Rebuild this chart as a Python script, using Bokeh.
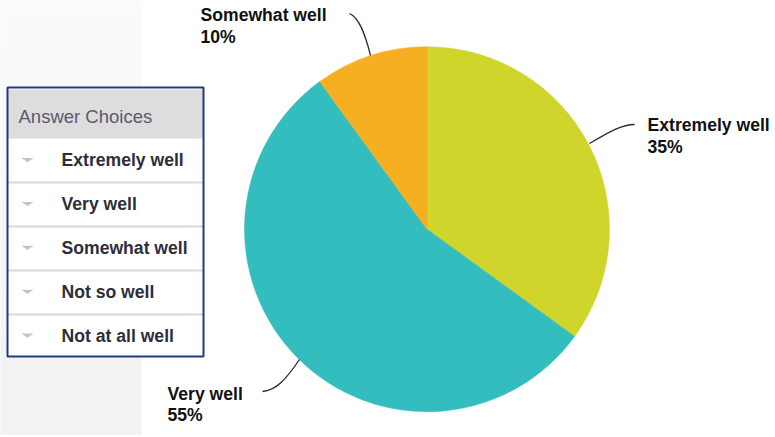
import numpy as np
from bokeh.plotting import figure
from bokeh.models import Range1d
from bokeh.core.properties import value
from bokeh.embed import file_html
from bokeh.resources import INLINE

# ---- data ----
categories = ["Extremely well", "Very well", "Somewhat well"]
percents = [35, 55, 10]
colors = ["#CFD52A", "#34BDBF", "#F6AF20"]
table_header = "Answer Choices"
table_choices = ["Extremely well", "Very well", "Somewhat well", "Not so well", "Not at all well"]

# ---- layout helpers (page pixel coords -> data coords) ----
W, H = 773, 435
TDY = -7.0  # text baseline correction
def X(px):
    a = np.asarray(px, dtype=float)
    return float(a) if a.ndim == 0 else a
def Y(py):
    a = H - np.asarray(py, dtype=float)
    return float(a) if a.ndim == 0 else a
def TY(py):
    return Y(np.asarray(py, dtype=float) + TDY)

p = figure(width=W, height=H, x_range=Range1d(0, W), y_range=Range1d(0, H),
           output_backend="svg", toolbar_location=None, min_border=0)
p.axis.visible = False
p.grid.visible = False
p.outline_line_color = None
p.background_fill_color = "white"
p.border_fill_color = "white"

# left light-gray gradient panel
nb = 44
edges = np.linspace(0, 437, nb + 1)
shades = np.linspace(251, 242, nb).astype(int)
cols = ["#%02x%02x%02x" % (s, s, s) for s in shades]
p.quad(left=X(-2), right=X(141), top=Y(edges[:-1]), bottom=Y(edges[1:] + 0.6),
       fill_color=cols, line_color=None)

# ---- pie ----
frac = np.array(percents, dtype=float) / sum(percents)
cum = np.concatenate([[0], np.cumsum(frac)])
start = np.pi / 2 - 2 * np.pi * cum[:-1]
end = np.pi / 2 - 2 * np.pi * cum[1:]
cx, cy, r = 426.5, 228.7, 182.5
p.wedge(x=X(cx), y=Y(cy), radius=r, start_angle=start, end_angle=end,
        direction="clock", fill_color=colors, line_color=colors, line_width=0.5)

# leader lines
lead = dict(
    x0=[589, 349, 262], y0=[143, 13, 391],
    cx0=[611, 359, 276], cy0=[130, 17, 390],
    cx1=[622, 365, 286], cy1=[124, 35, 378],
    x1=[634, 370, 299], y1=[124, 55, 359],
)
p.bezier(x0=X(lead["x0"]), y0=Y(lead["y0"]), x1=X(lead["x1"]), y1=Y(lead["y1"]),
         cx0=X(lead["cx0"]), cy0=Y(lead["cy0"]), cx1=X(lead["cx1"]), cy1=Y(lead["cy1"]),
         line_color="#2a2a2a", line_width=1.3)

# labels
lab_x = [647, 167, 200]
lab_y1 = [131, 400, 21.5]
lab_y2 = [153, 421.7, 43.5]
p.text(x=X(lab_x), y=TY(lab_y1), text=categories,
       text_font=value("Liberation Sans"), text_font_size=value("17.6px"),
       text_font_style="bold", text_color="#111111",
       text_align="left", text_baseline="alphabetic")
p.text(x=X(lab_x), y=TY(lab_y2), text=[f"{v}%" for v in percents],
       text_font=value("Liberation Sans"), text_font_size=value("17.6px"),
       text_font_style="bold", text_color="#111111",
       text_align="left", text_baseline="alphabetic")

# ---- answer choices table ----
tl, tr, tt, tb = 7, 203, 87, 356
p.quad(left=X(tl), right=X(tr), top=Y(tt), bottom=Y(tb),
       fill_color="white", line_color=None)
p.quad(left=X(tl), right=X(tr), top=Y(89), bottom=Y(138),
       fill_color="#dddddd", line_color=None)
sep_y = 138 + 44 * np.arange(1, len(table_choices))
p.segment(x0=X(tl), x1=X(tr), y0=Y(sep_y), y1=Y(sep_y),
          line_color="#d8d8d8", line_width=2)
p.quad(left=X(tl), right=X(tr), top=Y(tt), bottom=Y(tb),
       fill_color=None, line_color="#1f3b80", line_width=2)

p.text(x=X([18]), y=TY([123]), text=[table_header],
       text_font=value("Liberation Sans"), text_font_size=value("18.5px"),
       text_color="#5a5a6e", text_align="left", text_baseline="alphabetic")

base = 166.5 + 43.9 * np.arange(len(table_choices))
p.text(x=X([61] * len(table_choices)), y=TY(base), text=table_choices,
       text_font=value("Liberation Sans"), text_font_size=value("17.6px"),
       text_font_style="bold", text_color="#2e2e3a",
       text_align="left", text_baseline="alphabetic")

ctr = base - 7
xs = [list(X([21, 33, 27])) for _ in ctr]
ys = [list(Y([c - 2, c - 2, c + 2.2])) for c in ctr]
p.patches(xs=xs, ys=ys, fill_color="#c4c4c4", line_color=None)

open("out.html", "w").write(file_html(p, INLINE))
